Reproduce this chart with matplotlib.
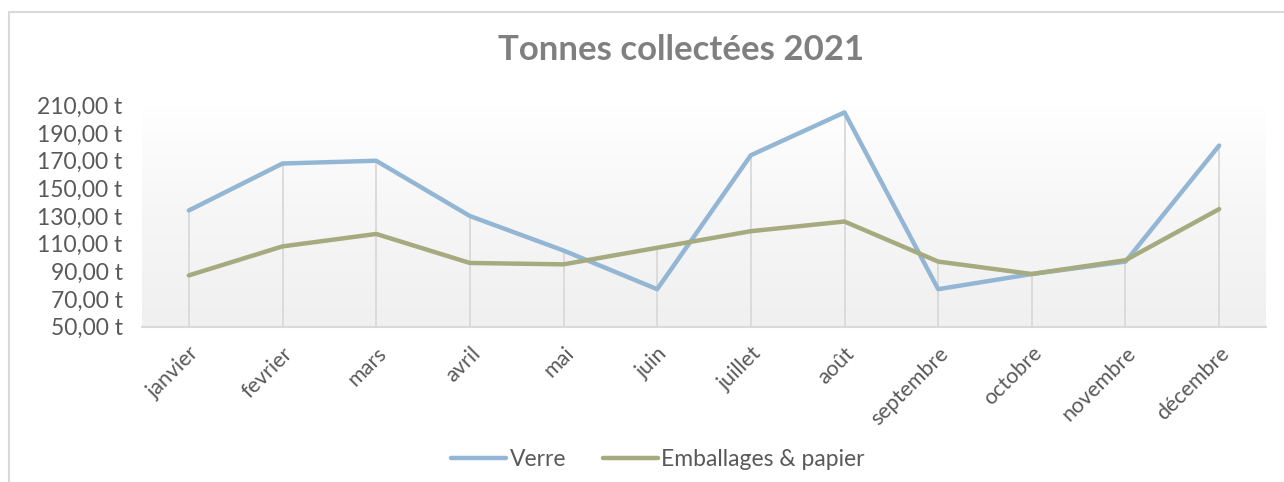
"""Tonnes collectées 2021 - line chart recreation."""

import matplotlib.pyplot as plt
import numpy as np
from matplotlib.patches import Rectangle

months = ["janvier", "fevrier", "mars", "avril", "mai", "juin", "juillet",
          "août", "septembre", "octobre", "novembre", "décembre"]
verre = [134, 168, 170, 130, 105, 77, 174, 205, 77, 88, 97, 181]
emballages = [87, 108, 117, 96, 95, 107, 119, 126, 97, 88, 98, 135]
y_ticks = [50, 70, 90, 110, 130, 150, 170, 190, 210]

plt.rcParams["font.family"] = ["Lato", "DejaVu Sans"]

fig = plt.figure(figsize=(12.84, 4.82), dpi=100)
W, H = 1284, 482

# chart frame
fig.patches.append(Rectangle((9 / W, -0.1), 1.2, 1 - 12 / H + 0.1,
                             transform=fig.transFigure, fill=False,
                             edgecolor="#d9d9d9", linewidth=1.5))

ax = fig.add_axes([142 / W, 1 - 326.5 / H, (1266 - 142) / W, (326.5 - 105.5) / H])
x = np.arange(len(months))
ax.set_xlim(-0.5, len(months) - 0.5)
ax.set_ylim(50, 210)

# gradient background
grad = np.linspace(1, 0, 256).reshape(-1, 1)
ax.imshow(grad, extent=(-0.5, len(months) - 0.5, 50, 210), aspect="auto",
          cmap=plt.matplotlib.colors.LinearSegmentedColormap.from_list(
              "bg", ["#f0f0f0", "#f6f6f6", "#ffffff"]),
          zorder=0, origin="upper")

# drop lines
tops = np.maximum(verre, emballages)
ax.vlines(x, 50, tops, colors="#d9d9d9", linewidth=1.3, zorder=1)

ax.plot(x, verre, color="#93b6d4", linewidth=3.2, label="Verre",
        solid_capstyle="round", zorder=3)
ax.plot(x, emballages, color="#a5ab7f", linewidth=3.2, label="Emballages & papier",
        solid_capstyle="round", zorder=3)

for side in ["top", "right", "left"]:
    ax.spines[side].set_visible(False)
ax.spines["bottom"].set_color("#d9d9d9")
ax.spines["bottom"].set_linewidth(1.5)

ax.set_yticks(y_ticks)
ax.set_yticklabels([f"{v},00 t" for v in y_ticks])
ax.set_xticks(x)
ax.set_xticklabels(months, rotation=45, ha="right", va="top",
                   rotation_mode="anchor")
ax.tick_params(axis="y", length=0, pad=14, labelsize=16.5, labelcolor="#595959")
ax.tick_params(axis="x", length=0, pad=12, labelsize=15.5, labelcolor="#595959")

fig.text(681 / W, 1 - 50 / H, "Tonnes collectées 2021", ha="center", va="center",
         fontsize=25, fontweight="bold", color="#7f7f7f")

fig.legend(loc="center", bbox_to_anchor=(658 / W, 1 - 460 / H), ncol=2,
           frameon=False, fontsize=16.5, labelcolor="#595959", handlelength=2.4,
           handletextpad=0.15, columnspacing=1.6)

fig.savefig("out.png", dpi=100)
